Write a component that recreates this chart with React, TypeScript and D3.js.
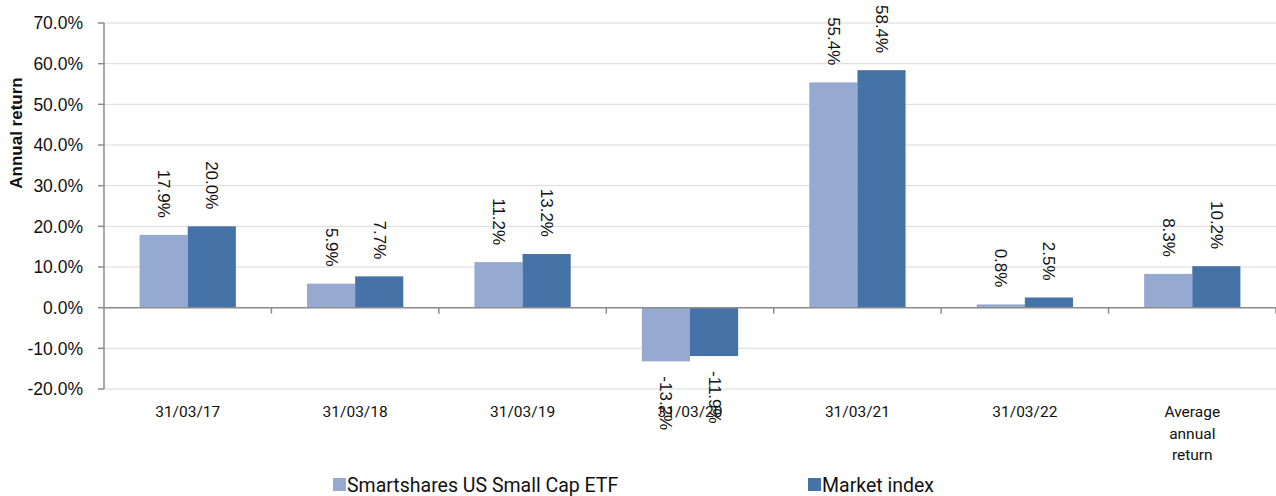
import React from "react";
import * as d3 from "d3";

const categories: string[][] = [
  ["31/03/17"],
  ["31/03/18"],
  ["31/03/19"],
  ["31/03/20"],
  ["31/03/21"],
  ["31/03/22"],
  ["Average", "annual", "return"],
];
const etfValues = [17.9, 5.9, 11.2, -13.2, 55.4, 0.8, 8.3];
const indexValues = [20.0, 7.7, 13.2, -11.9, 58.4, 2.5, 10.2];
const seriesNames = ["Smartshares US Small Cap ETF", "Market index"];
const yTicks = [-20, -10, 0, 10, 20, 30, 40, 50, 60, 70];

const W = 1276;
const H = 496;
const left = 104;
const right = 1276;
const top = 23;
const bottom = 389;
const COLORS = ["#95A9D1", "#4573A7"];
const SANS = "'Liberation Sans', Arial, sans-serif";
const ROBOTO = "Roboto, 'Noto Sans', sans-serif";

export default function App() {
  const y = d3.scaleLinear().domain([-20, 70]).range([bottom, top]);
  const keys = categories.map((_, i) => String(i));
  const x0 = d3
    .scaleBand<string>()
    .domain(keys)
    .range([left, right])
    .paddingInner(0.425)
    .paddingOuter(0.2125);
  const x1 = d3
    .scaleBand<string>()
    .domain(["0", "1"])
    .range([0, x0.bandwidth()]);
  const step = x0.step();
  const series = [etfValues, indexValues];
  const y0 = y(0);

  return (
    <svg
      width={W}
      height={H}
      style={{ position: "absolute", left: 0, top: 0, background: "#fff" }}
    >
      {/* gridlines */}
      {yTicks.map((t) => (
        <line
          key={"g" + t}
          x1={left}
          x2={right}
          y1={y(t)}
          y2={y(t)}
          stroke="#d9d9d9"
          strokeWidth={1}
        />
      ))}
      {/* y axis */}
      <line x1={left} x2={left} y1={top} y2={bottom} stroke="#8c8c8c" strokeWidth={1.5} />
      {yTicks.map((t) => (
        <g key={"t" + t}>
          <line x1={left - 6} x2={left} y1={y(t)} y2={y(t)} stroke="#8c8c8c" strokeWidth={1.5} />
          <text
            x={83}
            y={y(t)}
            dy="0.36em"
            textAnchor="end"
            fontFamily={SANS}
            fontSize={17.5}
            fill="#111"
          >
            {t.toFixed(1) + "%"}
          </text>
        </g>
      ))}
      {/* bars */}
      {series.map((vals, si) =>
        vals.map((v, ci) => {
          const bx = (x0(String(ci)) as number) + (x1(String(si)) as number);
          const bw = x1.bandwidth();
          return (
            <rect
              key={`b${si}-${ci}`}
              x={bx}
              y={Math.min(y(v), y0)}
              width={bw}
              height={Math.abs(y(v) - y0)}
              fill={COLORS[si]}
            />
          );
        })
      )}
      {/* zero axis */}
      <line x1={left} x2={right} y1={y0} y2={y0} stroke="#8c8c8c" strokeWidth={1.5} />
      {keys.map((k, i) => (
        <line
          key={"ct" + k}
          x1={left + step * (i + 1)}
          x2={left + step * (i + 1)}
          y1={y0}
          y2={y0 + 6}
          stroke="#8c8c8c"
          strokeWidth={1.5}
        />
      ))}
      {/* data labels */}
      {series.map((vals, si) =>
        vals.map((v, ci) => {
          const cx =
            (x0(String(ci)) as number) + (x1(String(si)) as number) + x1.bandwidth() / 2;
          const pos = v >= 0;
          const ly = pos ? y(v) - 17 : y(v) + 15;
          return (
            <text
              key={`l${si}-${ci}`}
              transform={`translate(${cx},${ly}) rotate(90)`}
              textAnchor={pos ? "end" : "start"}
              dominantBaseline="central"
              fontFamily={SANS}
              fontSize={17}
              fill="#111"
            >
              {v.toFixed(1) + "%"}
            </text>
          );
        })
      )}
      {/* category labels */}
      {categories.map((lines, i) => {
        const cx = (x0(String(i)) as number) + x0.bandwidth() / 2;
        return (
          <text
            key={"c" + i}
            x={cx}
            y={417}
            textAnchor="middle"
            fontFamily={ROBOTO}
            fontSize={15.5}
            fill="#111"
          >
            {lines.map((ln, j) => (
              <tspan key={j} x={cx} dy={j === 0 ? 0 : 21.5}>
                {ln}
              </tspan>
            ))}
          </text>
        );
      })}
      {/* y title */}
      <text
        transform={`translate(22,133) rotate(-90)`}
        textAnchor="middle"
        fontFamily={SANS}
        fontWeight="bold"
        fontSize={17}
        fill="#111"
      >
        Annual return
      </text>
      {/* legend */}
      {seriesNames.map((name, i) => {
        const lx = i === 0 ? 333 : 808;
        return (
          <g key={"lg" + i}>
            <rect x={lx} y={478} width={13} height={13} fill={COLORS[i]} />
            <text x={lx + 14} y={491.5} fontFamily={ROBOTO} fontSize={19.5} fill="#111">
              {name}
            </text>
          </g>
        );
      })}
    </svg>
  );
}
